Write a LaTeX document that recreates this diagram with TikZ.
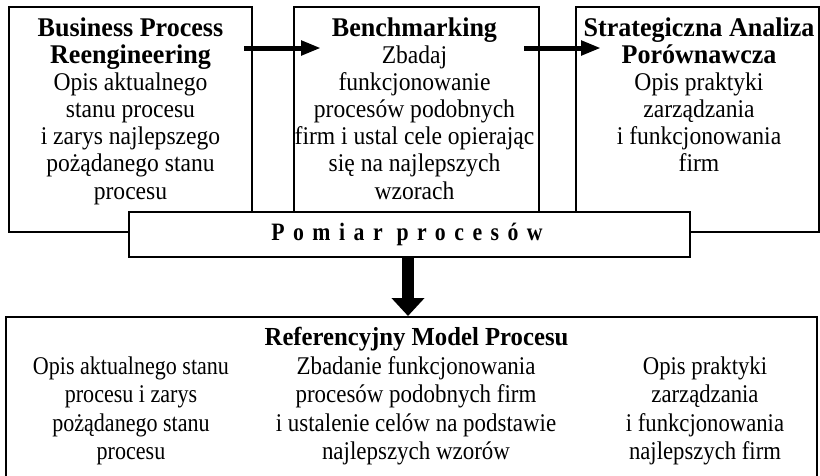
\documentclass[tikz,border=0pt]{standalone}
\usepackage{fontspec}
\setmainfont{Liberation Serif}
\usetikzlibrary{arrows.meta,calc}

% narrow, tall faces for the box texts
\newfontfamily\upfont[FakeStretch=0.925]{Liberation Serif}
\newfontfamily\upbold[FakeStretch=0.965]{Liberation Serif}
\newfontfamily\lowfont[FakeStretch=0.865]{Liberation Serif}
\newfontfamily\midfont[FakeStretch=0.9]{Liberation Serif}
\newfontfamily\rightfont[FakeStretch=0.89]{Liberation Serif}
\newfontfamily\lowbold[FakeStretch=0.95]{Liberation Serif}
\newfontfamily\barfont[FakeStretch=0.87,LetterSpace=34]{Liberation Serif}

% bold heading line inside the upper boxes
\newcommand\hd[1]{{\upbold\bfseries\fontsize{27}{27.1}\selectfont #1}}

\begin{document}
\begin{tikzpicture}[x=1pt,y=-1pt,
  frame/.style={draw, line width=2pt, inner sep=0pt, anchor=north west},
  toptext/.style={anchor=north, align=center, inner sep=0pt,
    font=\upfont\fontsize{25.5}{27.1}\selectfont},
  bottext/.style={anchor=north, align=center, inner sep=0pt,
    font=\lowfont\fontsize{25.5}{28.3}\selectfont},
  hbar/.style={line width=5pt, -{Triangle[length=20pt,width=14pt]}},
  vbar/.style={line width=12pt, -{Triangle[length=18pt,width=32pt]}}
]
\fill[white] (0,0) rectangle (820,475);
\useasboundingbox (0,0) rectangle (820,475);

% three method boxes
\node[frame, minimum width=243pt, minimum height=225pt] (b1) at (8,6) {};
\node[frame, minimum width=245pt, minimum height=225pt] (b2) at (293,6) {};
\node[frame, minimum width=243pt, minimum height=225pt] (b3) at (575,6) {};

% measurement bar laid over the lower edges
\node[frame, fill=white, minimum width=561pt, minimum height=45pt,
  font=\barfont\bfseries\fontsize{25}{27}\selectfont]
  (pm) at (128,211) {Pomiar procesów\kern5pt};

% reference model box (its lower edge runs off the page)
\node[frame, minimum width=811pt, minimum height=164pt] (rm) at (5,316) {};

% flow arrows
\draw[hbar] ($(b1.north east)+(-9,42)$) -- ($(b2.north west)+(28,42)$);
\draw[hbar] ($(b2.north east)+(-16,42)$) -- ($(b3.north west)+(26,42)$);
\draw[vbar] ([xshift=-1.5pt]pm.south) -- ([xshift=-1.5pt]pm.south |- rm.north);

% box contents
\node[toptext] (t1) at ($(b1.north)+(0,11.5)$)
  {\hd{Business Process}\\\hd{Reengineering}\\Opis aktualnego\\stanu procesu\\i zarys najlepszego\\pożądanego stanu\\procesu};
\node[toptext] (t2) at ($(b2.north)+(-2,11.5)$)
  {\hd{Benchmarking}\\Zbadaj\\funkcjonowanie\\procesów podobnych\\firm i ustal cele opierając\\się na najlepszych\\wzorach};
\node[toptext] (t3) at ($(b3.north)+(1.5,11.5)$)
  {\hd{Strategiczna Analiza}\\\hd{Porównawcza}\\Opis praktyki\\zarządzania\\i funkcjonowania\\firm};

\node[anchor=base, inner sep=0pt, font=\lowbold\bfseries\fontsize{26}{28}\selectfont]
  (rt) at ($(rm.north)+(5,29)$) {Referencyjny Model Procesu};
\node[bottext] (c1) at ($(rm.north west)+(126,40.5)$)
  {Opis aktualnego stanu\\procesu i zarys\\pożądanego stanu\\procesu};
\node[bottext, font=\midfont\fontsize{25.5}{28.3}\selectfont] (c2)
  at ($(rm.north west)+(411,40.5)$)
  {Zbadanie funkcjonowania\\procesów podobnych firm\\i ustalenie celów na podstawie\\najlepszych wzorów};
\node[bottext, font=\rightfont\fontsize{25.5}{28.3}\selectfont] (c3)
  at ($(rm.north west)+(700,40.5)$)
  {Opis praktyki\\zarządzania\\i funkcjonowania\\najlepszych firm};
\end{tikzpicture}
\end{document}
